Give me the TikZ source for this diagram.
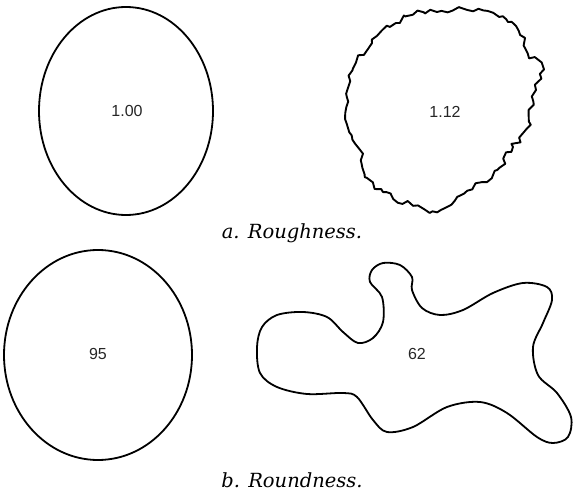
\documentclass[tikz,border=0pt]{standalone}
\usepackage{fontspec}
\setsansfont{Liberation Sans}
\newfontfamily\capfont{DejaVu Serif}
\usetikzlibrary{decorations.pathmorphing}

\begin{document}
\begin{tikzpicture}[
    x=1pt, y=-1pt,
    outline/.style={draw, line width=1.8pt, line join=round},
    rough/.style={outline, line width=1.9pt, decorate, decoration={random steps, segment length=5pt, amplitude=3pt}},
    value/.style={font=\sffamily\fontsize{16}{16}\selectfont, text=black!85},
    caption/.style={font=\capfont\itshape\fontsize{19.5}{19.5}\selectfont}
]
\useasboundingbox (0,0) rectangle (574,495);
\pgfmathsetseed{7}

% a. roughness
\draw[outline] (126,111) ellipse [x radius=87, y radius=104];
\node[value] (smooth) at (127,111) {1.00};

\draw[rough] plot[smooth cycle, tension=0.6] coordinates {
    (413,15) (437,12) (467,10) (493,13) (508,22) (520,35) (528,53)
    (540,64) (536,90) (529,110) (527,128) (513,147) (497,170) (470,190)
    (437,212) (413,206) (383,192) (365,177) (360,150) (350,132) (347,97)
    (356,63) (372,43) (390,27)};
\node[value] (jagged) at (445,112) {1.12};

\node[caption] (capa) at (292,233) {a. Roughness.};

% b. roundness
\draw[outline] (98,355) ellipse [x radius=94, y radius=105];
\node[value] (round) at (98,354) {95};

\draw[outline] plot[smooth cycle, tension=0.55] coordinates {
    (257,347) (262,327) (277,315) (303,312) (327,317) (343,332) (358,343)
    (373,338) (383,322) (382,297) (370,282) (372,270) (383,263) (400,265)
    (412,277) (412,290) (422,308) (440,315) (463,310) (493,293) (523,283)
    (547,287) (552,300) (543,323) (533,347) (538,375) (557,393) (571,417)
    (568,437) (553,443) (537,437) (507,413) (480,402) (447,407) (413,427)
    (387,432) (373,420) (357,397) (343,393) (307,394) (277,387) (260,373)};
\node[value] (blob) at (417,354) {62};

\node[caption] (capb) at (292,480) {b. Roundness.};
\end{tikzpicture}
\end{document}
